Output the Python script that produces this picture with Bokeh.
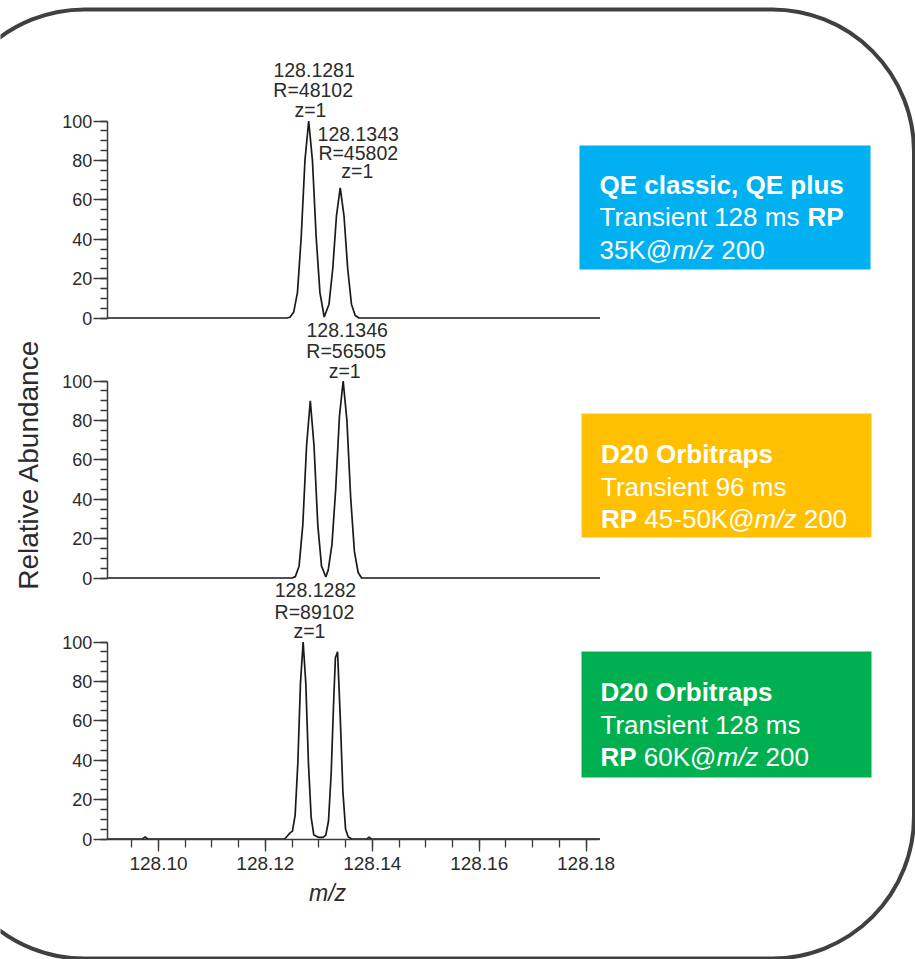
import math
from bokeh.plotting import figure
from bokeh.models import (Range1d, LinearAxis, SingleIntervalTicker, BoxAnnotation, Label,
                          PrintfTickFormatter, ColumnDataSource)
from bokeh.embed import file_html
from bokeh.resources import INLINE

# ---------------- data ----------------
# panel 1 : QE classic / QE plus
p1_mz = [128.0904, 128.1240, 128.1246, 128.1253, 128.1260, 128.1267, 128.1274, 128.1281, 128.1288,
         128.1295, 128.1302, 128.1310, 128.1319, 128.1326, 128.1333, 128.1340, 128.1347, 128.1354,
         128.1361, 128.1368, 128.1375, 128.1826]
p1_ab = [0, 0, 0.4, 3, 13, 41, 80, 100, 80, 41, 13, 0.5, 7, 25, 52, 66, 52, 25, 7, 1.3, 0, 0]

# panel 2 : D20 Orbitraps, 96 ms
p2_mz = [128.0904, 128.1250, 128.1256, 128.1263, 128.1270, 128.1277, 128.1284, 128.1291, 128.1298,
         128.1305, 128.1313, 128.13175, 128.13245, 128.13315, 128.13385, 128.13455, 128.13525,
         128.13595, 128.13665, 128.13735, 128.1380, 128.1826]
p2_ab = [0, 0, 0.7, 6, 27, 67, 90, 67, 27, 6, 0.5, 4, 17, 45, 82, 100, 80, 41, 13.5, 2.8, 0, 0]

# panel 3 : D20 Orbitraps, 128 ms
p3_mz = [128.0904, 128.0970, 128.0975, 128.0980, 128.1236, 128.1241, 128.12456, 128.12506, 128.12556,
         128.12606, 128.12656, 128.12706, 128.12756, 128.12806, 128.12856, 128.12906, 128.1300, 128.1308,
         128.1313, 128.1318, 128.1323, 128.1328, 128.1331, 128.1335, 128.1340, 128.1345, 128.1350,
         128.1355, 128.1362, 128.1390, 128.1394, 128.1398, 128.1826]
p3_ab = [0, 0, 1, 0, 0, 1.5, 3, 4, 12, 38, 79, 100, 79, 38, 11, 2, 0.8, 0.8, 2, 9, 33, 72, 92, 95,
         62, 24, 5, 1, 0, 0, 1, 0, 0]

# peak annotations: panel index, apex m/z, apex abundance, text lines
peak_panel = [0, 0, 1, 2]
peak_mz = [128.1281, 128.1340, 128.13455, 128.12706]
peak_ab = [100, 66, 100, 100]
peak_text = [["128.1281", "R=48102", "z=1"],
             ["128.1343", "R=45802", "z=1"],
             ["128.1346", "R=56505", "z=1"],
             ["128.1282", "R=89102", "z=1"]]

y_tick_interval = 20
x_tick_interval = 0.02
x_axis_end = 128.1826
x_label = "m/z"
y_label = "Relative Abundance"

box_colors = ["#00B0F0", "#FFC000", "#00B050"]
box_lines = [
    [[("QE classic, QE plus", "bold")],
     [("Transient 128 ms ", "normal"), ("RP", "bold")],
     [("35K@", "normal"), ("m/z", "italic"), (" 200", "normal")]],
    [[("D20 Orbitraps", "bold")],
     [("Transient 96 ms", "normal")],
     [("RP", "bold"), (" 45-50K@", "normal"), ("m/z", "italic"), (" 200", "normal")]],
    [[("D20 Orbitraps", "bold")],
     [("Transient 128 ms", "normal")],
     [("RP", "bold"), (" 60K@", "normal"), ("m/z", "italic"), (" 200", "normal")]],
]

# ---------------- styling / layout ----------------
FONT = "Liberation Sans"
TXT = "#2b2b2b"
AX = "#3a3a3a"
W, H = 915, 959
PXU = 5345.0                 # pixels per m/z unit
MZ_REF, X_REF = 128.10, 158.0
x_start = MZ_REF - X_REF / PXU
x_end = x_start + W / PXU
axis_mz = x_start + 106.7 / PXU      # where the y axes stand
YPX = 1.97                   # pixels per % abundance
zero_px = [317.5, 577.5, 838.5]      # canvas y of the zero line of each panel
names = ["default", "p2", "p3"]


def yr(z):
    return Range1d(-(H - z) / YPX, z / YPX)


REG = {' ': 278, '0': 556, '1': 556, '2': 556, '3': 556, '4': 556, '5': 556, '6': 556, '7': 556,
       '8': 556, '9': 556, '@': 1015, 'K': 667, 'm': 833, '/': 278, 'z': 500, '-': 333, 'T': 611,
       'r': 333, 'a': 556, 'n': 556, 's': 500, 'i': 222, 'e': 556, 't': 278, 'R': 722, 'P': 667,
       'D': 722, 'O': 778, 'b': 556, 'p': 556, 'l': 222, 'c': 500, 'u': 556, 'Q': 778, 'E': 667, ',': 278}
BOLD = {' ': 278, '0': 556, '1': 556, '2': 556, '3': 556, '4': 556, '5': 556, '6': 556, '7': 556,
        '8': 556, '9': 556, 'Q': 778, 'E': 667, 'c': 556, 'l': 278, 'a': 556, 's': 556, 'i': 278,
        ',': 278, 'p': 611, 'u': 611, 'R': 722, 'P': 667, 'D': 722, 'O': 778, 'r': 389, 'b': 611,
        't': 333, 'm': 889}


def text_w(s, style, size):
    table = BOLD if style == "bold" else REG
    return sum(table.get(c, 556) for c in s) * size / 1000.0


p = figure(width=W, height=H, x_range=Range1d(x_start, x_end), y_range=yr(zero_px[0]),
           min_border=0, x_axis_location=None, y_axis_location=None,
           toolbar_location=None, output_backend="svg")
p.extra_y_ranges = {"p2": yr(zero_px[1]), "p3": yr(zero_px[2])}
p.outline_line_color = None
p.background_fill_color = "white"
p.border_fill_color = "white"
p.grid.grid_line_color = None

# rounded frame around everything
p.add_layout(BoxAnnotation(left=-58, right=913.5, top=9, bottom=958,
                           left_units="canvas", right_units="canvas",
                           top_units="canvas", bottom_units="canvas",
                           fill_alpha=0, line_color="#404040", line_alpha=1.0, line_width=4,
                           border_radius=142, level="overlay"))

spectra = [(p1_mz, p1_ab), (p2_mz, p2_ab), (p3_mz, p3_ab)]
for i, name in enumerate(names):
    yax = LinearAxis(y_range_name=name, fixed_location=axis_mz, bounds=(0, 100),
                     ticker=SingleIntervalTicker(interval=y_tick_interval, num_minor_ticks=4))
    yax.axis_line_color = AX
    yax.axis_line_width = 1.5
    yax.major_tick_line_color = AX
    yax.minor_tick_line_color = AX
    yax.major_tick_line_width = 1.3
    yax.minor_tick_line_width = 1.3
    yax.major_tick_in = 0
    yax.major_tick_out = 14
    yax.minor_tick_in = 0
    yax.minor_tick_out = 7
    yax.major_label_standoff = 1
    yax.major_label_text_font = FONT
    yax.major_label_text_font_size = "18px"
    yax.major_label_text_color = TXT
    p.add_layout(yax, "left")

    mz, ab = spectra[i]
    src = ColumnDataSource(dict(mz=mz, ab=ab))
    p.line("mz", "ab", source=src, y_range_name=name, line_color="#1a1a1a", line_width=1.7)

xax = LinearAxis(y_range_name="p3", fixed_location=0, bounds=(axis_mz, x_axis_end),
                 ticker=SingleIntervalTicker(interval=x_tick_interval, num_minor_ticks=4),
                 formatter=PrintfTickFormatter(format="%.2f"))
xax.axis_line_color = AX
xax.axis_line_width = 1.5
xax.major_tick_line_color = AX
xax.minor_tick_line_color = AX
xax.major_tick_line_width = 1.3
xax.minor_tick_line_width = 1.3
xax.major_tick_in = 0
xax.major_tick_out = 12
xax.minor_tick_in = 0
xax.minor_tick_out = 8
xax.major_label_standoff = 6
xax.major_label_text_font = FONT
xax.major_label_text_font_size = "19px"
xax.major_label_text_color = TXT
p.add_layout(xax, "below")

# coloured info boxes
box_geom = [  # canvas: left, top, right, bottom, text x, baselines
    (579, 145, 870, 269, 599.0, [184, 216.7, 249.3]),
    (581, 413, 871, 537, 600.5, [453.3, 486, 518.3]),
    (581, 651, 871, 777, 600.0, [691.7, 724, 756]),
]
for i, (bl, bt, br, bb, tx, bases) in enumerate(box_geom):
    p.add_layout(BoxAnnotation(left=bl, right=br, top=bt, bottom=bb,
                               left_units="canvas", right_units="canvas",
                               top_units="canvas", bottom_units="canvas",
                               fill_color=box_colors[i], fill_alpha=1, line_color=None))
    for line, base in zip(box_lines[i], bases):
        cx = tx
        for seg, style in line:
            lead = len(seg) - len(seg.lstrip(" "))
            shown = seg.strip(" ")
            sx = cx + text_w(" " * lead, style, 26)
            p.add_layout(Label(x=sx, y=base, x_units="canvas", y_units="canvas",
                               text=shown, text_font=FONT, text_font_size="26px",
                               text_font_style=style, text_color="white",
                               text_align="left", text_baseline="alphabetic"))
            cx += text_w(seg, style, 26)

# peak labels (pixel offsets from the apex)
peak_offsets = [
    [(5.4, 51.3), (4.5, 31.3), (1.7, 10.8)],
    [(18, 53.5), (18, 35), (17, 16.5)],
    [(4, 51.3), (3, 29.7), (1.5, 10.5)],
    [(12.3, 51.8), (11.3, 30.2), (6.3, 11.0)],
]
for k, pi in enumerate(peak_panel):
    for txt, (dx, dy) in zip(peak_text[k], peak_offsets[k]):
        p.add_layout(Label(x=peak_mz[k], y=peak_ab[k], x_offset=dx, y_offset=dy,
                           y_range_name=names[pi],
                           text=txt, text_font=FONT, text_font_size="19.5px",
                           text_color=TXT, text_align="center", text_baseline="middle"))

# axis titles
p.add_layout(Label(x=28, y=464, x_units="canvas", y_units="canvas",
                   text=y_label, angle=math.pi / 2, text_font=FONT, text_font_size="28px",
                   text_color=TXT, text_align="center", text_baseline="middle"))
p.add_layout(Label(x=327, y=892, x_units="canvas", y_units="canvas",
                   text=x_label, text_font=FONT, text_font_size="23px", text_font_style="italic",
                   text_color=TXT, text_align="center", text_baseline="middle"))

open("out.html", "w").write(file_html(p, INLINE))
